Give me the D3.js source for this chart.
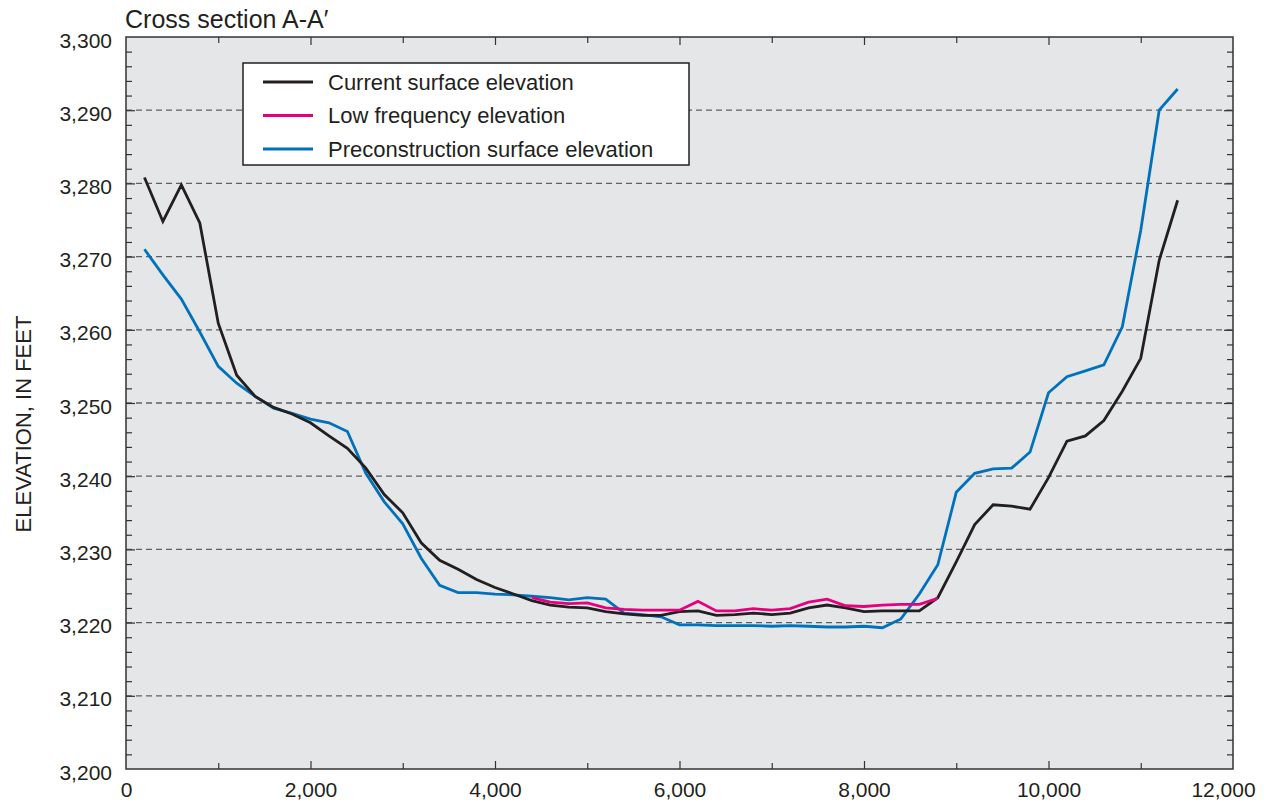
<!DOCTYPE html>
<html lang="en">
<head>
<meta charset="UTF-8">
<title>Cross section A-A'</title>
<script src="https://cdn.jsdelivr.net/npm/d3@7"></script>
<style>
  body { margin: 0; background: #fff; }
  svg { font-family: "Liberation Sans", Arial, sans-serif; }
</style>
</head>
<body>
<div id="chart"></div>
<script>
// distance along section, feet
const distance = [200, 400, 600, 800, 1000, 1200, 1400, 1600, 1800, 2000,
  2200, 2400, 2600, 2800, 3000, 3200, 3400, 3600, 3800, 4000,
  4200, 4400, 4600, 4800, 5000, 5200, 5400, 5600, 5800, 6000,
  6200, 6400, 6600, 6800, 7000, 7200, 7400, 7600, 7800, 8000,
  8200, 8400, 8600, 8800, 9000, 9200, 9400, 9600, 9800, 10000,
  10200, 10400, 10600, 10800, 11000, 11200, 11400];

const currentElev = [3280.8, 3274.8, 3279.8, 3274.6, 3260.9, 3253.8, 3250.9, 3249.4, 3248.5, 3247.3,
  3245.5, 3243.8, 3241.1, 3237.5, 3235.0, 3230.9, 3228.5, 3227.3, 3225.9, 3224.8,
  3223.9, 3223.0, 3222.4, 3222.1, 3222.0, 3221.5, 3221.2, 3221.0, 3221.0, 3221.5,
  3221.6, 3221.0, 3221.1, 3221.3, 3221.1, 3221.3, 3222.0, 3222.4, 3222.0, 3221.5,
  3221.6, 3221.6, 3221.6, 3223.4, 3228.3, 3233.4, 3236.1, 3235.9, 3235.5, 3239.8,
  3244.8, 3245.5, 3247.6, 3251.6, 3256.1, 3269.5, 3277.7];

const preconElev = [3271.0, 3267.5, 3264.2, 3259.7, 3255.0, 3252.7, 3250.9, 3249.3, 3248.6, 3247.8,
  3247.3, 3246.1, 3240.4, 3236.5, 3233.5, 3228.8, 3225.1, 3224.1, 3224.1, 3223.9,
  3223.8, 3223.6, 3223.4, 3223.1, 3223.4, 3223.2, 3221.3, 3221.1, 3220.8, 3219.7,
  3219.7, 3219.6, 3219.6, 3219.6, 3219.5, 3219.6, 3219.5, 3219.4, 3219.4, 3219.5,
  3219.3, 3220.5, 3223.9, 3227.9, 3237.8, 3240.4, 3241.0, 3241.1, 3243.3, 3251.4,
  3253.6, 3254.4, 3255.2, 3260.4, 3273.6, 3290.0, 3292.9];

// low frequency elevation covers only the channel bottom
const lowFreqDistance = [4400, 4600, 4800, 5000, 5200, 5400, 5600, 5800, 6000,
  6200, 6400, 6600, 6800, 7000, 7200, 7400, 7600, 7800, 8000,
  8200, 8400, 8600, 8800];
const lowFreqElev = [3223.4, 3222.8, 3222.6, 3222.7, 3222.0, 3221.8, 3221.7, 3221.7, 3221.7,
  3222.9, 3221.6, 3221.6, 3221.9, 3221.7, 3221.9, 3222.8, 3223.2, 3222.3, 3222.2,
  3222.4, 3222.5, 3222.5, 3223.3];

const seriesNames = ["Current surface elevation", "Low frequency elevation", "Preconstruction surface elevation"];
const seriesColors = ["#231f20", "#e6007e", "#0072bc"];

const width = 1266;
const height = 806;
const marginTop = 37;
const marginRight = 33;
const marginBottom = 37;
const marginLeft = 126;

const x = d3.scaleLinear()
  .domain([0, 12000])
  .range([marginLeft, width - marginRight]);

const y = d3.scaleLinear()
  .domain([3200, 3300])
  .range([height - marginBottom, marginTop]);

const svg = d3.select("#chart").append("svg")
  .attr("width", width)
  .attr("height", height);

// plot background
svg.append("rect")
  .attr("x", x(0))
  .attr("y", y(3300))
  .attr("width", x(12000) - x(0))
  .attr("height", y(3200) - y(3300))
  .attr("fill", "#e5e6e8");

// dashed gridlines
svg.append("g")
  .selectAll("line")
  .data(d3.range(3210, 3300, 10))
  .join("line")
  .attr("x1", x(0))
  .attr("x2", x(12000))
  .attr("y1", d => y(d))
  .attr("y2", d => y(d))
  .attr("stroke", "#5f6062")
  .attr("stroke-width", 1.3)
  .attr("stroke-dasharray", "6,4");

// inward ticks on all four sides
const minorY = d3.range(3202, 3300, 2).filter(d => d % 10 !== 0);
const majorY = d3.range(3210, 3300, 10);
const minorX = d3.range(1000, 12000, 2000);
const majorX = d3.range(2000, 12000, 2000);

function tickGroup(axis, values, size, transform) {
  svg.append("g")
    .attr("transform", transform)
    .call(axis.tickValues(values).tickSize(size).tickFormat(""))
    .call(g => g.select(".domain").remove())
    .call(g => g.selectAll(".tick line").attr("stroke", "#333").attr("stroke-width", 1.2));
}
tickGroup(d3.axisRight(y), minorY, 6, `translate(${x(0)},0)`);
tickGroup(d3.axisRight(y), majorY, 9, `translate(${x(0)},0)`);
tickGroup(d3.axisLeft(y), minorY, 6, `translate(${x(12000)},0)`);
tickGroup(d3.axisLeft(y), majorY, 9, `translate(${x(12000)},0)`);
tickGroup(d3.axisTop(x), minorX, 6, `translate(0,${y(3200)})`);
tickGroup(d3.axisTop(x), majorX, 8, `translate(0,${y(3200)})`);
tickGroup(d3.axisBottom(x), minorX, 6, `translate(0,${y(3300)})`);
tickGroup(d3.axisBottom(x), majorX, 8, `translate(0,${y(3300)})`);

// frame
svg.append("rect")
  .attr("x", x(0))
  .attr("y", y(3300))
  .attr("width", x(12000) - x(0))
  .attr("height", y(3200) - y(3300))
  .attr("fill", "none")
  .attr("stroke", "#333")
  .attr("stroke-width", 1.5);

// tick labels
svg.append("g")
  .attr("transform", `translate(${x(0)},0)`)
  .call(d3.axisLeft(y).tickValues(d3.range(3200, 3301, 10)).tickSize(0).tickPadding(14).tickFormat(d3.format(",")))
  .call(g => g.select(".domain").remove())
  .call(g => g.selectAll("text")
    .style("font-family", "'Liberation Sans', Arial, sans-serif")
    .style("font-size", "21px")
    .attr("dy", "0.48em")
    .attr("fill", "#231f20"));

svg.append("g")
  .attr("transform", `translate(0,${y(3200)})`)
  .call(d3.axisBottom(x).tickValues(d3.range(0, 12001, 2000)).tickSize(0).tickPadding(13).tickFormat(d3.format(",")))
  .call(g => g.select(".domain").remove())
  .call(g => g.selectAll("text")
    .style("font-family", "'Liberation Sans', Arial, sans-serif")
    .style("font-size", "21px")
    .attr("fill", "#231f20"))
  .call(g => g.select(".tick:last-of-type text").attr("dx", -10));

// axis title
svg.append("text")
  .attr("transform", `translate(31,${(y(3200) + y(3300)) / 2 + 21}) rotate(-90)`)
  .attr("text-anchor", "middle")
  .attr("font-size", 22)
  .attr("fill", "#231f20")
  .text("ELEVATION, IN FEET");

// chart title
svg.append("text")
  .attr("x", x(0) - 1)
  .attr("y", 28)
  .attr("font-size", 25)
  .attr("fill", "#231f20")
  .text("Cross section A-A\u2032");

// lines
const line = d3.line()
  .x(d => x(d[0]))
  .y(d => y(d[1]));

const lineData = [
  d3.zip(distance, preconElev),
  d3.zip(distance, currentElev),
  d3.zip(lowFreqDistance, lowFreqElev)
];
const lineColors = [seriesColors[2], seriesColors[0], seriesColors[1]];

svg.append("g")
  .attr("fill", "none")
  .attr("stroke-width", 2.8)
  .attr("stroke-linejoin", "miter")
  .selectAll("path")
  .data(lineData)
  .join("path")
  .attr("stroke", (d, i) => lineColors[i])
  .attr("d", line);

// legend
const legend = svg.append("g")
  .attr("transform", "translate(243,63)");

legend.append("rect")
  .attr("width", 446)
  .attr("height", 102)
  .attr("fill", "#fff")
  .attr("stroke", "#231f20")
  .attr("stroke-width", 1.5);

const item = legend.selectAll("g")
  .data(seriesNames)
  .join("g")
  .attr("transform", (d, i) => `translate(0,${19 + i * 33.5})`);

item.append("line")
  .attr("x1", 20)
  .attr("x2", 70)
  .attr("stroke", (d, i) => seriesColors[i])
  .attr("stroke-width", 2.8);

item.append("text")
  .attr("x", 85)
  .attr("dy", "0.35em")
  .attr("font-size", 22)
  .attr("fill", "#231f20")
  .text(d => d);
</script>
</body>
</html>
